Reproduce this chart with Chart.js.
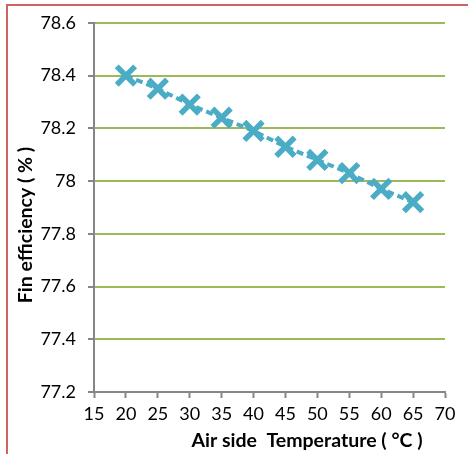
<!DOCTYPE html>
<html>
<head>
<meta charset="utf-8">
<script src="https://cdn.jsdelivr.net/npm/chart.js@4"></script>
<style>
  html, body { margin: 0; padding: 0; background: #fff; }
  #wrap { position: relative; width: 468px; height: 454px; }
</style>
</head>
<body>
<div id="wrap"><canvas id="chart" width="468" height="454"></canvas></div>
<script>
// data
const suhu = [20, 25, 30, 35, 40, 45, 50, 55, 60, 65];
const efisiensi = [78.40, 78.35, 78.29, 78.24, 78.19, 78.13, 78.08, 78.03, 77.97, 77.92];
const judulX = "Air side  Temperature ( °C )";
const judulY = "Fin efficiency ( % )";

const biru = "#4bacc6";
const hijau = "#9bbb59";
const abu = "#868686";
const fontTick = { family: "Lato", size: 18 };

// frame on left/top + axis titles
const hiasan = {
  id: "hiasan",
  afterDraw(chart) {
    const c = chart.ctx;
    c.save();
    c.strokeStyle = "#cd6464";
    c.lineWidth = 2;
    c.beginPath();
    c.moveTo(7, 454);
    c.lineTo(7, 5);
    c.lineTo(468, 5);
    c.stroke();

    c.fillStyle = "#000";
    c.font = "bold 19.5px Lato";
    c.textAlign = "center";
    c.textBaseline = "alphabetic";
    c.fillText(judulX, 307, 447);

    c.translate(26, 225);
    c.rotate(-Math.PI / 2);
    c.textBaseline = "middle";
    c.fillText(judulY, 0, 0);
    c.restore();
  }
};

new Chart(document.getElementById("chart"), {
  type: "line",
  data: {
    datasets: [{
      data: suhu.map((x, i) => ({ x: x, y: efisiensi[i] })),
      borderColor: biru,
      backgroundColor: biru,
      borderWidth: 4,
      borderDash: [7, 4],
      pointStyle: "crossRot",
      pointRadius: 13,
      pointBorderWidth: 5.5,
      pointBorderColor: biru,
      pointHoverRadius: 13,
      tension: 0
    }]
  },
  options: {
    responsive: false,
    animation: false,
    layout: { padding: { left: 0, right: 23, top: 22, bottom: 0 } },
    plugins: { legend: { display: false }, tooltip: { enabled: false } },
    scales: {
      x: {
        type: "linear",
        min: 15, max: 70,
        afterFit: s => { s.height = 62; },
        ticks: { stepSize: 5, color: "#000", font: fontTick, padding: 5, maxRotation: 0 },
        grid: { drawOnChartArea: false, drawTicks: true, tickLength: 6, tickColor: abu, tickWidth: 2 },
        border: { color: abu, width: 2 }
      },
      y: {
        min: 77.2, max: 78.6,
        afterFit: s => { s.width = 94; },
        ticks: { stepSize: 0.2, color: "#000", font: fontTick, padding: 12,
                 callback: v => +v.toFixed(1) },
        grid: {
          color: ctx => ctx.tick && ctx.tick.value <= 77.2 ? abu : hijau,
          lineWidth: 2,
          tickLength: 6, tickColor: abu, tickWidth: 2
        },
        border: { color: abu, width: 2 }
      }
    }
  },
  plugins: [hiasan]
});
</script>
</body>
</html>
